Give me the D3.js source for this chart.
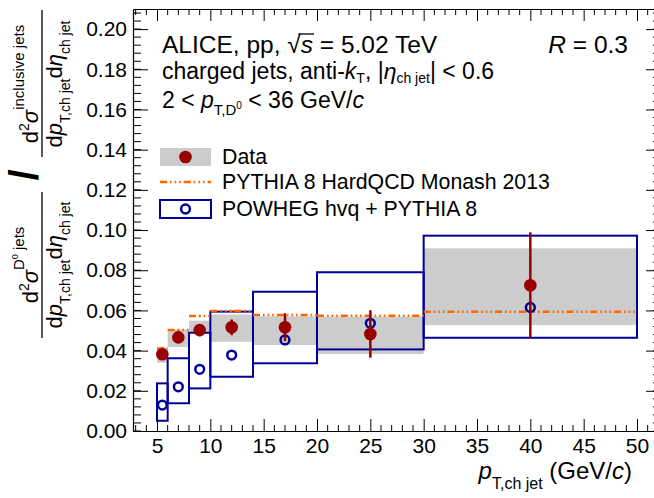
<!DOCTYPE html>
<html><head><meta charset="utf-8">
<script src="https://cdn.jsdelivr.net/npm/d3@7"></script>
<style>body{margin:0;background:#fff} svg{display:block} text{font-family:"Liberation Sans",Arial,Helvetica,sans-serif;fill:#000}</style>
</head><body><svg id="c" width="654" height="498"></svg>
<script>
// ---- data ----
const binEdges    = [5, 6, 8, 10, 14, 20, 30, 50];
const binCenters  = [5.5, 7, 9, 12, 17, 25, 40];
const dataValues  = [0.0382, 0.0466, 0.0502, 0.0516, 0.0516, 0.0483, 0.0725];
const dataStatErr = [0.0015, 0.0018, 0.0030, 0.0039, 0.0069, 0.0118, 0.0264];
const dataSysLow  = [0.0340, 0.0418, 0.0488, 0.0444, 0.0428, 0.0383, 0.0527];
const dataSysHigh = [0.0416, 0.0505, 0.0549, 0.0580, 0.0571, 0.0569, 0.0909];
const pythiaValues  = [0.0411, 0.0502, 0.0572, 0.0597, 0.0577, 0.0574, 0.0594];
const pythiaStatErr = [0.0008, 0.0006, 0.0006, 0.0006, 0.0008, 0.0012, 0.0010];
const powhegValues = [0.0129, 0.0220, 0.0307, 0.0378, 0.0453, 0.0536, 0.0615];
const powhegLow    = [0.0051, 0.0138, 0.0212, 0.0270, 0.0337, 0.0406, 0.0464];
const powhegHigh   = [0.0237, 0.0362, 0.0489, 0.0594, 0.0693, 0.0790, 0.0972];
const xMajorTicks = [5, 10, 15, 20, 25, 30, 35, 40, 45, 50];
const xMinorTicks = d3.range(3, 53, 1);
const yMajorTicks = [0, 0.02, 0.04, 0.06, 0.08, 0.10, 0.12, 0.14, 0.16, 0.18, 0.20];
const yMinorTicks = d3.range(0, 0.2101, 0.004);
const legendLabels = ["Data", "PYTHIA 8 HardQCD Monash 2013", "POWHEG hvq + PYTHIA 8"];

// ---- style ----
const RED = "#990000", BLUE = "#000099", ORANGE = "#ff6600", GREY = "#cccccc";

const svg = d3.select("#c");
const x = d3.scaleLinear().domain([2.75, 52.25]).range([133, 661]);
const y = d3.scaleLinear().domain([0, 0.21]).range([431, 9]);

const idx = d3.range(binCenters.length);

// grey systematic boxes
svg.append("g").selectAll("rect").data(idx).join("rect")
  .attr("x", i => x(binEdges[i])).attr("width", i => x(binEdges[i+1]) - x(binEdges[i]))
  .attr("y", i => y(dataSysHigh[i])).attr("height", i => y(dataSysLow[i]) - y(dataSysHigh[i]))
  .attr("fill", GREY);

// POWHEG boxes
svg.append("g").selectAll("rect").data(idx).join("rect")
  .attr("x", i => x(binEdges[i])).attr("width", i => x(binEdges[i+1]) - x(binEdges[i]))
  .attr("y", i => y(powhegHigh[i])).attr("height", i => y(powhegLow[i]) - y(powhegHigh[i]))
  .attr("fill", "none").attr("stroke", BLUE).attr("stroke-width", 2);

// PYTHIA segments
const dashPat = "7,3,1.6,3,1.6,3,1.6,3";
svg.append("g").selectAll("line").data(idx).join("line")
  .attr("x1", i => x(binEdges[i])).attr("x2", i => x(binEdges[i+1]))
  .attr("y1", i => y(pythiaValues[i])).attr("y2", i => y(pythiaValues[i]))
  .attr("stroke", ORANGE).attr("stroke-width", 2.5).attr("stroke-dasharray", dashPat);
svg.append("g").selectAll("line").data(idx).join("line")
  .attr("x1", i => x(binCenters[i])).attr("x2", i => x(binCenters[i]))
  .attr("y1", i => y(pythiaValues[i] + pythiaStatErr[i])).attr("y2", i => y(pythiaValues[i] - pythiaStatErr[i]))
  .attr("stroke", ORANGE).attr("stroke-width", 2);

// POWHEG markers
svg.append("g").selectAll("circle").data(idx).join("circle")
  .attr("cx", i => x(binCenters[i])).attr("cy", i => y(powhegValues[i])).attr("r", 4.4)
  .attr("fill", "none").attr("stroke", BLUE).attr("stroke-width", 2.5);

// data stat error bars and markers
svg.append("g").selectAll("line").data(idx).join("line")
  .attr("x1", i => x(binCenters[i])).attr("x2", i => x(binCenters[i]))
  .attr("y1", i => y(dataValues[i] + dataStatErr[i])).attr("y2", i => y(dataValues[i] - dataStatErr[i]))
  .attr("stroke", RED).attr("stroke-width", 2.5);
svg.append("g").selectAll("circle").data(idx).join("circle")
  .attr("cx", i => x(binCenters[i])).attr("cy", i => y(dataValues[i])).attr("r", 6.3)
  .attr("fill", RED);

// ---- axes ----
const xAxis = svg.append("g").attr("transform", `translate(0,${y(0)})`)
  .call(d3.axisBottom(x).tickValues(xMajorTicks).tickSizeInner(-12).tickSizeOuter(0).tickPadding(7).tickFormat(d3.format("d")));
xAxis.append("g").selectAll("line").data(xMinorTicks.filter(v => !xMajorTicks.includes(v))).join("line")
  .attr("x1", d => x(d)).attr("x2", d => x(d)).attr("y1", 0).attr("y2", -6).attr("stroke", "#000");
const xTop = svg.append("g").attr("transform", `translate(0,${y(0.21)})`)
  .call(d3.axisTop(x).tickValues(xMajorTicks).tickSizeInner(-12).tickSizeOuter(0).tickFormat(""));
xTop.append("g").selectAll("line").data(xMinorTicks.filter(v => !xMajorTicks.includes(v))).join("line")
  .attr("x1", d => x(d)).attr("x2", d => x(d)).attr("y1", 0).attr("y2", 6).attr("stroke", "#000");
const yAxis = svg.append("g").attr("transform", `translate(${x(2.75)},0)`)
  .call(d3.axisLeft(y).tickValues(yMajorTicks).tickSizeInner(-15).tickSizeOuter(0).tickPadding(6).tickFormat(d3.format(".2f")));
yAxis.append("g").selectAll("line").data(yMinorTicks).join("line")
  .attr("x1", 0).attr("x2", 8).attr("y1", d => y(d)).attr("y2", d => y(d)).attr("stroke", "#000");
const yRight = svg.append("g").attr("transform", `translate(${x(52.25)},0)`)
  .call(d3.axisRight(y).tickValues(yMajorTicks).tickSizeInner(-15).tickSizeOuter(0).tickFormat(""));
yRight.append("g").selectAll("line").data(yMinorTicks).join("line")
  .attr("x1", 0).attr("x2", -8).attr("y1", d => y(d)).attr("y2", d => y(d)).attr("stroke", "#000");

[xAxis, yAxis].forEach(a => a.selectAll("text").attr("font-size", 21).attr("font-family", '"Liberation Sans",Arial,sans-serif').attr("fill", "#000"));
[xAxis, xTop, yAxis, yRight].forEach(a => a.selectAll(".domain").attr("stroke-width", 1.2));

// ---- rich text helper ----
function rich(sel, px, py, segs, anchor, size) {
  const t = sel.append("text").attr("x", px).attr("y", py)
    .attr("text-anchor", anchor || "start").attr("font-size", size);
  let cur = 0;
  segs.forEach(s => {
    const ts = t.append("tspan").text(s.t);
    const sh = s.sh || 0;
    ts.attr("dy", sh - cur); cur = sh;
    if (s.fs) ts.attr("font-size", s.fs);
    if (s.it) ts.attr("font-style", "italic");
  });
  return t;
}

// ---- header text ----
const t1 = rich(svg, 162, 53, [{t: "ALICE, pp, "}, {t: "\u221A"}, {t: "s", it: 1}, {t: " = 5.02 TeV"}], "start", 24.5);
{
  const node = t1.node();
  const s = "ALICE, pp, \u221A".length;
  const b = node.getEndPositionOfChar(s);
  const r0 = node.getStartPositionOfChar(s - 1);
  svg.append("line").attr("x1", r0.x + 11).attr("x2", b.x + 1).attr("y1", 34).attr("y2", 34)
    .attr("stroke", "#000").attr("stroke-width", 1.3);
}
rich(svg, 628, 53, [{t: "R", it: 1}, {t: " = 0.3"}], "end", 24.5);
rich(svg, 162, 79, [{t: "charged jets, anti-"}, {t: "k", it: 1}, {t: "T", fs: 14, sh: 4}, {t: ", |", sh: 0}, {t: "\u03B7", it: 1}, {t: "ch jet", fs: 14, sh: 4}, {t: "| < 0.6", sh: 0}], "start", 23);
rich(svg, 162, 108, [{t: "2 < "}, {t: "p", it: 1}, {t: "T,D", fs: 15, sh: 7}, {t: "0", fs: 10, sh: 1}, {t: " < 36 GeV/", sh: 0}, {t: "c", it: 1}], "start", 23);

// ---- legend ----
const leg = svg.append("g");
const legRows = [157, 182, 209];
const lx0 = 160, lx1 = 211, lxc = 185.5;
leg.append("rect").attr("x", lx0).attr("y", legRows[0] - 9).attr("width", lx1 - lx0).attr("height", 18).attr("fill", GREY);
leg.append("circle").attr("cx", lxc).attr("cy", legRows[0]).attr("r", 6.3).attr("fill", RED);
leg.append("line").attr("x1", lx0).attr("x2", lx1).attr("y1", legRows[1]).attr("y2", legRows[1])
  .attr("stroke", ORANGE).attr("stroke-width", 2.5).attr("stroke-dasharray", dashPat);
leg.append("rect").attr("x", lx0).attr("y", legRows[2] - 9).attr("width", lx1 - lx0).attr("height", 18)
  .attr("fill", "none").attr("stroke", BLUE).attr("stroke-width", 2);
leg.append("circle").attr("cx", lxc).attr("cy", legRows[2]).attr("r", 4.4).attr("fill", "none").attr("stroke", BLUE).attr("stroke-width", 2.5);
legendLabels.forEach((l, i) => {
  leg.append("text").attr("x", 222).attr("y", legRows[i] + 7).attr("font-size", 21.3).text(l);
});

// ---- x title ----
rich(svg, 632, 479, [{t: "p", it: 1}, {t: "T,ch jet", fs: 16, sh: 10}, {t: " (GeV/", sh: 0}, {t: "c", it: 1}, {t: ")"}], "end", 24);

// ---- y title (rotated) ----
const yt = svg.append("g").attr("transform", "translate(0,431) rotate(-90)");
function fraction(uc, u0, u1, numSegs, denSegs) {
  rich(yt, uc, 38, numSegs, "middle", 22);
  yt.append("line").attr("x1", u0).attr("x2", u1).attr("y1", 42).attr("y2", 42).attr("stroke", "#000").attr("stroke-width", 1.3);
  rich(yt, uc, 62, denSegs, "middle", 22);
}
const den = [{t: "d"}, {t: "p", it: 1}, {t: "T,ch jet", fs: 14, sh: 8}, {t: "d", sh: 0}, {t: "\u03B7", it: 1}, {t: "ch jet", fs: 14, sh: 8}];
fraction(166, 93, 239,
  [{t: "d"}, {t: "2", fs: 14, sh: -9}, {t: "\u03C3", it: 1, sh: 0}, {t: "D", fs: 15, sh: -14}, {t: "0", fs: 9, sh: -20}, {t: " jets", fs: 15, sh: -14}], den);
fraction(347, 274, 421,
  [{t: "d"}, {t: "2", fs: 14, sh: -9}, {t: "\u03C3", it: 1, sh: 0}, {t: "inclusive jets", fs: 15, sh: -14}], den);
rich(yt, 256, 38, [{t: "/"}], "middle", 40).attr("font-weight", "bold");
</script></body></html>
